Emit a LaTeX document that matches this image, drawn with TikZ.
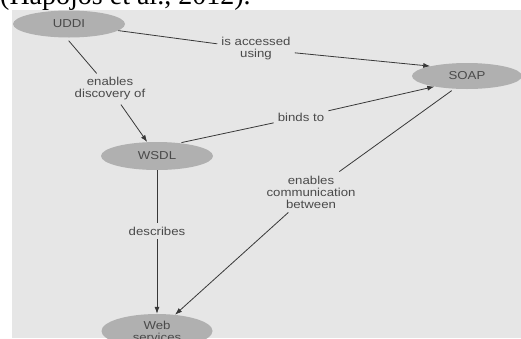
\documentclass[tikz,border=0pt]{standalone}
\usepackage{fontspec}
\setsansfont{Liberation Sans}[FakeStretch=1.15]
\newfontfamily\citefont{Liberation Serif}
\usetikzlibrary{shapes.geometric,arrows.meta}
\definecolor{paper}{HTML}{E6E6E6}
\definecolor{blob}{HTML}{B0B0B0}
\definecolor{ink}{HTML}{4A4A4A}
\definecolor{wire}{HTML}{383838}
\tikzset{
concept/.style={ellipse,fill=blob,text=ink,inner sep=0pt,align=center,
  minimum width=112pt,minimum height=27pt,font=\sffamily\fontsize{11.5}{12}\selectfont},
linkword/.style={text=ink,inner sep=4pt,align=center,font=\sffamily\fontsize{11.5}{12}\selectfont},
link/.style={draw=wire,line width=0.8pt},
arrowlink/.style={link,-{Latex[length=7pt,width=5pt]}}
}
\begin{document}
\begin{tikzpicture}[x=1pt,y=-1pt]
\useasboundingbox (0,0) rectangle (521,338);
%page
\fill[white] (0,0) rectangle (521,338);
\fill[paper] (12,10) rectangle (521,338);
\begin{scope}
\clip (0,0) rectangle (521,338);
\node[anchor=base west,inner sep=0pt,font=\citefont\fontsize{28}{30}\selectfont] (cite) at (0,4) {(Hapojos et al., 2012).};
\end{scope}
%concepts
\node[concept] (uddi) at (69,24) {UDDI};
\node[concept,minimum width=110pt,minimum height=26pt] (soap) at (467,76) {SOAP};
\node[concept,minimum height=28pt] (wsdl) at (157,156) {WSDL};
\node[concept,minimum width=111pt,minimum height=34pt] (web) at (157,331) {Web\\services};
%linking words
\node[linkword] (access) at (256,49) {is accessed\\using};
\node[linkword] (discovery) at (110,89) {enables\\discovery of};
\node[linkword] (binds) at (301,117) {binds to};
\node[linkword] (communication) at (311,192) {enables\\communication\\between};
\node[linkword] (describes) at (157,231) {describes};
%links
\draw[link] (uddi) -- (access);
\draw[arrowlink] (access) -- (soap.165);
\draw[link,shorten <=4pt] (uddi.258) -- (discovery);
\draw[arrowlink] (discovery) -- (wsdl);
\draw[link,shorten <=2pt] (wsdl.30) -- (binds);
\draw[arrowlink] (binds) -- (soap.198);
\draw[link,shorten <=3pt] (soap.225) -- (communication);
\draw[arrowlink] (communication) -- (web);
\draw[link] (wsdl) -- (describes);
\draw[arrowlink] (describes) -- (web);
\end{tikzpicture}
\end{document}
